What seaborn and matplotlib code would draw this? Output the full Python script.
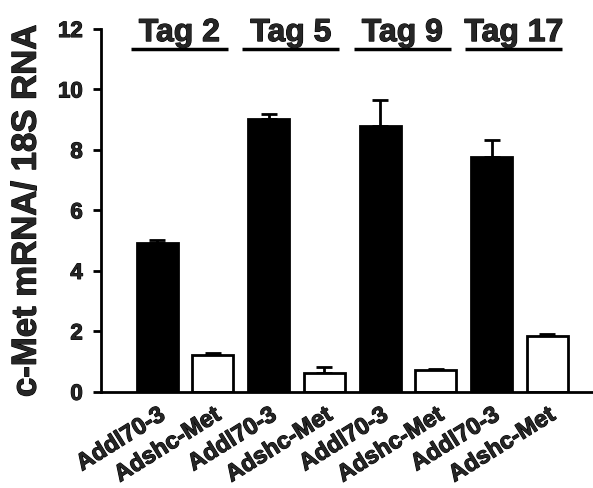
import matplotlib
matplotlib.use("Agg")
import matplotlib.pyplot as plt
import matplotlib.patheffects as pe
import seaborn as sns
import numpy as np
import pandas as pd

constructs = ["Addl70-3", "Adshc-Met"] * 4
groups = ["Tag 2", "Tag 2", "Tag 5", "Tag 5", "Tag 9", "Tag 9", "Tag 17", "Tag 17"]
values = [4.93, 1.21, 9.03, 0.64, 8.80, 0.72, 7.78, 1.86]
errors = [0.08, 0.07, 0.17, 0.17, 0.84, 0.05, 0.54, 0.06]
group_names = ["Tag 2", "Tag 5", "Tag 9", "Tag 17"]
yticks = [0, 2, 4, 6, 8, 10, 12]

sns.set_theme(style="white")
plt.rcParams["font.family"] = ["Liberation Sans", "DejaVu Sans"]
plt.rcParams["font.weight"] = "bold"

heavy = [pe.withStroke(linewidth=0.8, foreground="black")]

df = pd.DataFrame({
    "pos": [str(i) for i in range(len(values))],
    "construct": constructs,
    "group": groups,
    "value": values,
    "err": errors,
})

fig = plt.figure(figsize=(5.93, 4.88), dpi=100)
ax = fig.add_axes([0.170, 0.197, 0.830, 0.7436])

sns.barplot(data=df, x="pos", y="value", hue="construct",
            palette={"Addl70-3": "black", "Adshc-Met": "white"},
            dodge=False, width=0.735, edgecolor="black", linewidth=2,
            legend=False, ax=ax, errorbar=None, zorder=2)

xpos = np.arange(len(values))
ax.errorbar(xpos, df["value"], yerr=[np.zeros(len(values)), df["err"]],
            fmt="none", ecolor="black", elinewidth=2, capsize=6, capthick=2, zorder=1)

ax.set_ylim(0, 12)
ax.set_xlim(-1.01, 7.82)
ax.set_yticks(yticks)
ax.set_yticklabels([str(t) for t in yticks], fontsize=16, fontweight="bold")
ax.set_xticks(xpos)
ax.set_xticklabels(constructs, rotation=32, ha="right", rotation_mode="anchor",
                   fontsize=17, fontweight="bold")
ax.tick_params(axis="y", left=True, length=6, width=2, pad=7, color="black")
ax.tick_params(axis="x", bottom=False, pad=2)
ax.set_xlabel("")
ax.set_ylabel("c-Met mRNA/ 18S RNA", fontsize=25, fontweight="bold", labelpad=11)
ax.yaxis.label.set_path_effects(heavy)
for lab in ax.get_xticklabels() + ax.get_yticklabels():
    lab.set_path_effects(heavy)

for s in ["top", "right"]:
    ax.spines[s].set_visible(False)
for s in ["left", "bottom"]:
    ax.spines[s].set_linewidth(2)
    ax.spines[s].set_color("black")

for gi, g in enumerate(group_names):
    cx = 2 * gi + 0.4
    ax.text(cx, 11.6, g, ha="center", va="baseline", fontsize=23,
            fontweight="bold", clip_on=False, path_effects=heavy)
    ax.plot([cx - 0.87, cx + 0.87], [11.33, 11.33], color="black", lw=2.5,
            clip_on=False, solid_capstyle="butt")

fig.savefig("out.png", dpi=100)
